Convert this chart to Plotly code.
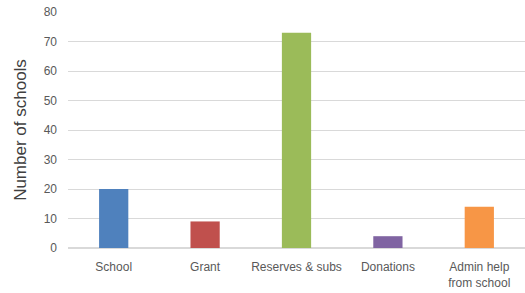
import plotly.graph_objects as go

categories = ["School", "Grant", "Reserves & subs", "Donations", "Admin help<br>from school"]
values = [20, 9, 73, 4, 14]
colors = ["#4F81BD", "#C0504D", "#9BBB59", "#8064A2", "#F79646"]
y_ticks = [0, 10, 20, 30, 40, 50, 60, 70, 80]

fig = go.Figure(go.Bar(x=categories, y=values, marker=dict(color=colors, line=dict(width=0)), width=0.32))

fig.update_layout(
    width=525, height=293,
    margin=dict(l=68, r=0, t=12, b=45),
    paper_bgcolor="white", plot_bgcolor="white",
    font=dict(family="Liberation Sans, Arial, sans-serif", color="#595959", size=11),
    showlegend=False,
)
fig.update_yaxes(
    range=[0, 80], tickvals=y_ticks, showgrid=True, gridcolor="#D9D9D9", gridwidth=1,
    zeroline=True, zerolinecolor="#D9D9D9", ticks="", ticklen=0, automargin=False,
    tickfont=dict(size=12, color="#595959"), ticklabelstandoff=10,
    title=dict(text="Number of schools", font=dict(size=17, color="#404040"), standoff=12),
)
fig.update_xaxes(
    showline=True, linecolor="#D9D9D9", tickfont=dict(size=12, color="#595959"), ticks="",
    automargin=False, ticklabelstandoff=8,
)
fig.write_html("out.html", post_script="document.body.style.margin='0';",
               config={"displayModeBar": False})
